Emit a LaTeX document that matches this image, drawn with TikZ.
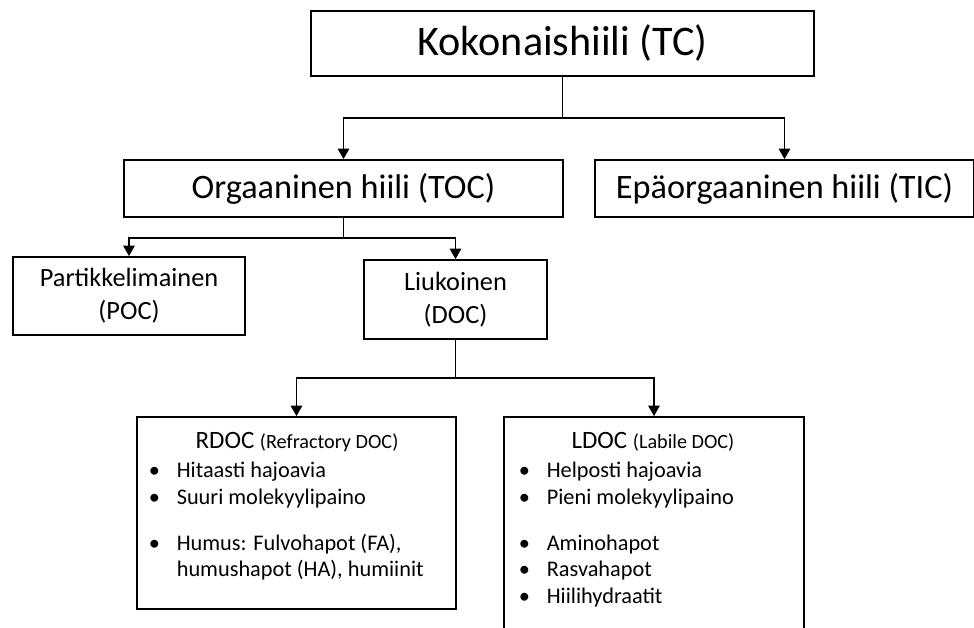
\documentclass[tikz,border=0pt]{standalone}
\usepackage{fontspec}
\setmainfont{Carlito}
\usetikzlibrary{arrows.meta}
\newcommand{\bul}{\makebox[15.9pt][l]{•}}

\begin{document}
\begin{tikzpicture}[x=0.02cm, y=-0.02cm, >={Triangle[length=6pt, width=6.5pt]}, line width=1pt,
        box/.style={draw, inner sep=0pt, align=center},
        bigtext/.style={font=\fontsize{24}{29}\selectfont},
        midtext/.style={font=\fontsize{19.5}{23}\selectfont},
        smalltext/.style={font=\fontsize{15}{18.7}\selectfont},
        titletext/.style={font=\fontsize{14.2}{17}\selectfont, inner sep=0pt},
        listtext/.style={font=\fontsize{12.7}{15.3}\selectfont, inner sep=0pt, align=left, anchor=north west}]
    \clip (0,0) rectangle (974,628);
    % Nodes
    \node[box, bigtext, minimum width=10.06cm, minimum height=1.3cm] at (562.5, 43.5) (tc) {Kokonaishiili (TC)};
    \node[box, midtext, minimum width=8.78cm, minimum height=1.14cm] at (343.5, 188.5) (toc) {Orgaaninen hiili (TOC)};
    \node[box, midtext, minimum width=7.58cm, minimum height=1.14cm] at (784.5, 188.5) (tic) {Epäorgaaninen hiili (TIC)};
    \node[box, smalltext, minimum width=4.64cm, minimum height=1.56cm] at (129, 296) (poc) {Partikkelimainen\\(POC)};
    \node[box, smalltext, minimum width=3.66cm, minimum height=1.58cm] at (455.5, 299.5) (doc) {Liukoinen\\(DOC)};
    \node[box, minimum width=6.38cm, minimum height=3.84cm] at (296.5, 513) (rdoc) {};
    \node[box, minimum width=6cm, minimum height=4.46cm] at (654, 528.5) (ldoc) {};

    % Texts in the lower boxes
    \node[titletext] at (297, 442) (rdoctitle) {RDOC {\fontsize{11.5}{13}\selectfont(Refractory DOC)}};
    \node[listtext] at (148, 461) (rdoclist) {\bul Hitaasti hajoavia\\
        \bul Suuri molekyylipaino\\[10.8pt]
        \bul Humus: Fulvohapot (FA),\\
        \hspace*{15.9pt}humushapot (HA), humiinit};
    \node[titletext] at (653, 442) (ldoctitle) {LDOC {\fontsize{11.5}{13}\selectfont(Labile DOC)}};
    \node[listtext] at (518, 461) (ldoclist) {\bul Helposti hajoavia\\
        \bul Pieni molekyylipaino\\[10.8pt]
        \bul Aminohapot\\
        \bul Rasvahapot\\
        \bul Hiilihydraatit};

    % Edges
    \draw[->] (tc.south) -- ++(0, 41) -| (toc.north);
    \draw[->] (tc.south) -- ++(0, 41) -| (tic.north);
    \draw[->] (toc.south) -- ++(0, 20) -| (poc.north);
    \draw[->] (toc.south) -- ++(0, 20) -| (doc.north);
    \draw[->] (doc.south) -- ++(0, 38) -| (rdoc.north);
    \draw[->] (doc.south) -- ++(0, 38) -| (ldoc.north);
\end{tikzpicture}
\end{document}
